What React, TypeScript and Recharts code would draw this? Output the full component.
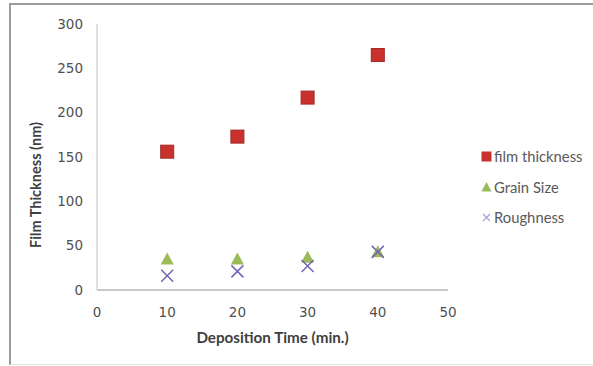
import {
  ScatterChart,
  Scatter,
  XAxis,
  YAxis,
  Legend,
} from 'recharts';

// deposition time (min.)
const times = [10, 20, 30, 40];
const filmThickness = [156, 173, 217, 265];
const grainSize = [35, 35, 37, 43];
const roughness = [16, 21, 27, 43];

const xTicks = [0, 10, 20, 30, 40, 50];
const yTicks = [0, 50, 100, 150, 200, 250, 300];

const seriesNames = ['film thickness', 'Grain Size', 'Roughness'];

const RED = '#c8312d';
const GREEN = '#9bbb59';
const PURPLE = '#7464b4';
const FONT = 'Lato, "Open Sans", sans-serif';
const TICK_FONT = '"DejaVu Sans", sans-serif';

const toPoints = (vals: number[]) => times.map((t, i) => ({ x: t, y: vals[i] }));

const SquareMark = ({ cx, cy }: any) => (
  <rect x={cx - 6.5} y={cy - 6.5} width={13} height={13} fill={RED} stroke="#a02a26" strokeWidth={1} />
);

const TriangleMark = ({ cx, cy }: any) => (
  <path d={`M${cx},${cy - 6.5} L${cx + 6.5},${cy + 5.5} L${cx - 6.5},${cy + 5.5} Z`} fill={GREEN} />
);

const CrossMark = ({ cx, cy }: any) => (
  <path
    d={`M${cx - 6},${cy - 6} L${cx + 6},${cy + 6} M${cx + 6},${cy - 6} L${cx - 6},${cy + 6}`}
    stroke={PURPLE}
    strokeWidth={1.5}
    fill="none"
  />
);

const LegendIcon = ({ name }: { name: string }) => {
  if (name === seriesNames[0]) {
    return (
      <svg width={11} height={11}>
        <rect x={0.5} y={0.5} width={10} height={10} fill={RED} />
      </svg>
    );
  }
  if (name === seriesNames[1]) {
    return (
      <svg width={11} height={11}>
        <path d="M5.5,1 L10.5,10.5 L0.5,10.5 Z" fill={GREEN} />
      </svg>
    );
  }
  return (
    <svg width={11} height={11}>
      <path d="M2,2 L9,9 M9,2 L2,9" stroke="#a9a0d6" strokeWidth={1.2} />
    </svg>
  );
};

const renderLegend = () => (
  <div style={{ fontFamily: FONT }}>
    {seriesNames.map((name) => (
      <div
        key={name}
        style={{ display: 'flex', alignItems: 'center', height: 30.5, fontSize: 14.8, color: '#595959' }}
      >
        <LegendIcon name={name} />
        <span style={{ marginLeft: 2 }}>{name}</span>
      </div>
    ))}
  </div>
);

const renderYTitle = (props: any) => {
  const { x, y, height } = props.viewBox;
  const cx = x + 25;
  const cy = y + height / 2 + 28;
  return (
    <text
      x={cx}
      y={cy}
      transform={`rotate(-90, ${cx}, ${cy})`}
      textAnchor="middle"
      dominantBaseline="central"
      fontFamily={FONT}
      fontWeight="bold"
      fontSize={14.5}
      fill="#404040"
    >
      Film Thickness (nm)
    </text>
  );
};

const renderXTitle = (props: any) => {
  const { x, y, width } = props.viewBox;
  return (
    <text
      x={x + width / 2}
      y={y + 47}
      textAnchor="middle"
      dominantBaseline="central"
      fontFamily={FONT}
      fontWeight="bold"
      fontSize={15.2}
      fill="#404040"
    >
      Deposition Time (min.)
    </text>
  );
};

export default function App() {
  const tick = { fontSize: 13.5, fill: '#505050', fontFamily: TICK_FONT };
  return (
    <div style={{ position: 'absolute', left: 0, top: 0, width: 593, height: 366, background: '#fff', overflow: 'hidden' }}>
      <div
        style={{
          position: 'absolute',
          left: 9,
          top: 3,
          width: 620,
          height: 359,
          borderTop: '2px solid #9a9a9a',
          borderLeft: '2px solid #9a9a9a',
          borderBottom: '1px solid #e2e2e2',
        }}
      />
      <ScatterChart
        width={593}
        height={366}
        margin={{ top: 24, right: 35, bottom: 26, left: 10 }}
        style={{ position: 'absolute', left: 0, top: 0 }}
      >
        <XAxis
          type="number"
          dataKey="x"
          domain={[0, 50]}
          ticks={xTicks}
          height={50}
          tickLine={false}
          tickMargin={11}
          axisLine={{ stroke: '#b4b4b4', strokeWidth: 1.5 }}
          tick={tick}
          label={renderXTitle}
        />
        <YAxis
          type="number"
          dataKey="y"
          domain={[0, 300]}
          ticks={yTicks}
          width={87}
          tickLine={false}
          tickMargin={8}
          axisLine={{ stroke: '#d4d4d4', strokeWidth: 1.5 }}
          tick={tick}
          label={renderYTitle}
        />
        <Legend
          layout="vertical"
          align="right"
          verticalAlign="middle"
          content={renderLegend}
          wrapperStyle={{ left: 481, top: 141, width: 110 }}
        />
        <Scatter name={seriesNames[0]} data={toPoints(filmThickness)} fill={RED} shape={SquareMark} isAnimationActive={false} />
        <Scatter name={seriesNames[1]} data={toPoints(grainSize)} fill={GREEN} shape={TriangleMark} isAnimationActive={false} />
        <Scatter name={seriesNames[2]} data={toPoints(roughness)} fill={PURPLE} shape={CrossMark} isAnimationActive={false} />
      </ScatterChart>
    </div>
  );
}
